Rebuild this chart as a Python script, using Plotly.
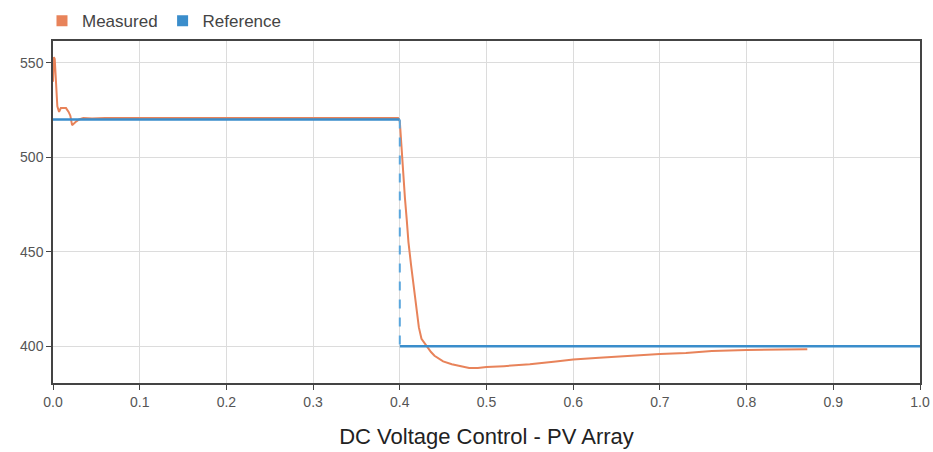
import plotly.graph_objects as go

# Reference signal
ref_x = [0.0, 0.4, 0.4, 1.0]
ref_y = [520, 520, 400, 400]

# Measured signal
meas_x = [0.0, 0.001, 0.002, 0.003, 0.004, 0.005, 0.007, 0.009, 0.012, 0.015, 0.018, 0.020,
          0.022, 0.024, 0.027, 0.030, 0.035, 0.045, 0.06, 0.1, 0.2, 0.3, 0.398,
          0.400, 0.401, 0.402, 0.404, 0.406, 0.408, 0.410, 0.413, 0.416, 0.419, 0.422,
          0.425, 0.428, 0.432, 0.436, 0.44, 0.45, 0.46, 0.47, 0.48, 0.49, 0.50,
          0.52, 0.55, 0.58, 0.60, 0.63, 0.66, 0.70, 0.73, 0.76, 0.80, 0.84, 0.87]
meas_y = [540, 553, 552, 541, 532, 527, 524, 526, 526, 526, 524, 522,
          517, 518, 519, 520, 520.8, 520.5, 520.8, 520.8, 520.8, 520.8, 520.8,
          519, 512, 500, 490, 478, 467, 455, 443, 432, 420, 410,
          404, 402, 400, 397, 395, 392, 390.5, 389.5, 388.5, 388.5, 389,
          389.5, 390.5, 392, 393, 394, 395, 396, 396.5, 397.5, 398, 398.5, 398.5]

ORANGE = "#E8835A"
BLUE = "#3A8DCB"

fig = go.Figure()
fig.add_trace(go.Scatter(x=meas_x, y=meas_y, mode="lines", line=dict(color=ORANGE, width=2),
                         showlegend=False, hoverinfo="skip"))
fig.add_trace(go.Scatter(x=ref_x[:2], y=ref_y[:2], mode="lines", line=dict(color=BLUE, width=2.5),
                         showlegend=False))
fig.add_trace(go.Scatter(x=ref_x[1:3], y=ref_y[1:3], mode="lines",
                         line=dict(color="#5AA6DC", width=2, dash="dash"), showlegend=False))
fig.add_trace(go.Scatter(x=ref_x[2:], y=ref_y[2:], mode="lines", line=dict(color=BLUE, width=2.5),
                         showlegend=False))
# legend entries
fig.add_trace(go.Scatter(x=[None], y=[None], mode="markers", name="Measured",
                         marker=dict(symbol="square", size=11, color=ORANGE)))
fig.add_trace(go.Scatter(x=[None], y=[None], mode="markers", name="Reference",
                         marker=dict(symbol="square", size=11, color=BLUE)))

fig.update_layout(
    width=933, height=452,
    margin=dict(l=53, r=13, t=41, b=69, autoexpand=False),
    plot_bgcolor="white", paper_bgcolor="white",
    font=dict(family="Liberation Sans, Arial, sans-serif", color="#555555", size=14),
    legend=dict(orientation="h", xref="container", yref="container", x=0.045, xanchor="left",
                y=0.953, yanchor="middle", itemwidth=30,
                font=dict(size=17, color="#444444"), itemsizing="trace", tracegroupgap=0,
                bgcolor="rgba(0,0,0,0)"),
    xaxis=dict(range=[0, 1.0], dtick=0.1, tick0=0, tickformat=".1f",
               showgrid=True, gridcolor="#DCDCDC", gridwidth=1,
               showline=True, linecolor="#444444", linewidth=1.5, mirror=True,
               ticks="outside", ticklen=5, tickcolor="#444444", zeroline=False,
               ticklabeloverflow="allow",
               title=dict(text="DC Voltage Control - PV Array", font=dict(size=22, color="#222222"), standoff=20)),
    yaxis=dict(range=[380.6, 561.5], tickvals=[400, 450, 500, 550],
               showgrid=True, gridcolor="#DCDCDC", gridwidth=1,
               showline=True, linecolor="#444444", linewidth=1.5, mirror=True,
               ticks="outside", ticklen=5, tickcolor="#444444", zeroline=False),
)

fig.write_html("out.html", config={"displayModeBar": False},
               post_script="document.body.style.margin='0';document.body.style.overflow='hidden';")
